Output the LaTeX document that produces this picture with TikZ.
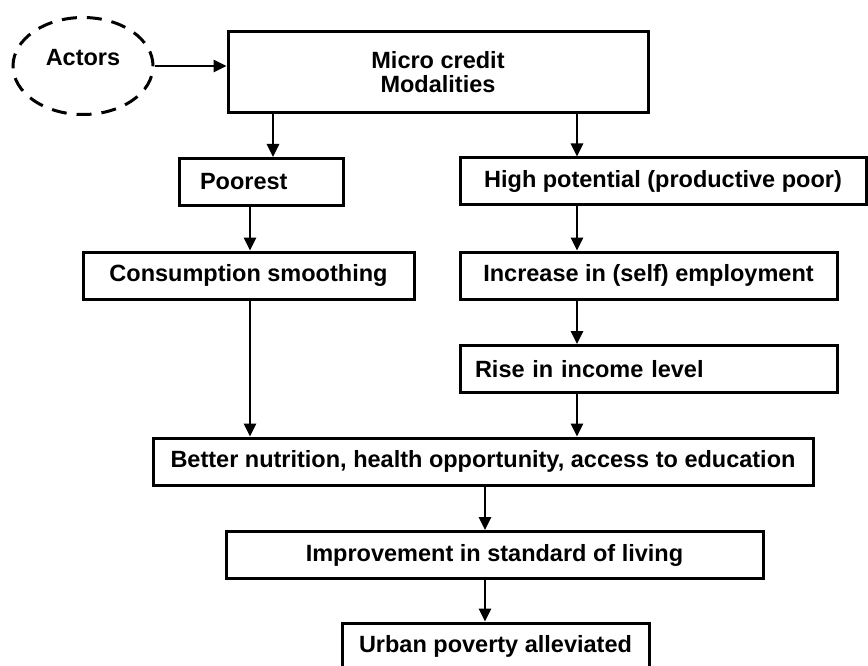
\documentclass[tikz,border=0pt]{standalone}
\usepackage{fontspec}
\setmainfont{Liberation Sans}
\usepackage{tikz}
\usetikzlibrary{shapes.geometric,arrows.meta,positioning,calc}

\begin{document}
\begin{tikzpicture}[x=1pt, y=-1pt,
  font=\bfseries\fontsize{23.5}{28}\selectfont,
  box/.style={draw, line width=3pt, minimum height=47pt, inner sep=0pt, align=center},
  actor/.style={draw, ellipse, dashed, dash pattern=on 15pt off 10pt, line width=3pt,
    minimum width=140pt, minimum height=97pt, inner sep=0pt},
  arr/.style={-{Triangle[width=12pt,length=13pt]}, line width=2.6pt}]
\useasboundingbox (0,0) rectangle (868,666);

% Top row
\node[actor, label={[yshift=8pt]center:Actors}] (actors) at (83,66) {};
\node[box, minimum width=420pt, minimum height=81pt] (micro) at (438,72.5) {Micro credit\\[-4pt]Modalities};

% Left branch
\node[box, minimum width=164pt, text width=164pt, align=left] (poorest) at (261,182) {\hspace*{21pt}Poorest};
\node[box, minimum width=331pt] (consum) at (248.5,275.5) {Consumption smoothing};

% Right branch
\node[box, minimum width=406pt] (highpot) at (663,181.5) {High potential (productive poor)};
\node[box, minimum width=377pt] (increase) at (648.5,275.5) {Increase in (self) employment};
\node[box, minimum width=377pt, text width=377pt, align=left] (rise) at (648.5,369) {\hspace*{15pt}Rise in income level};

% Outcomes
\node[box, minimum width=660pt] (better) at (483,461.5) {Better nutrition, health opportunity, access to education};
\node[box, minimum width=537pt] (improve) at (494.5,555) {Improvement in standard of living};
\node[box, minimum width=307pt] (urban) at (495.5,646.5) {Urban poverty alleviated};

% Arrow columns
\coordinate (pcol) at (273,0);
\coordinate (lcol) at (250,0);
\coordinate (rcol) at (577,0);
\coordinate (mcol) at (485,0);

\draw[arr] (actors.east) -- (micro.west |- actors.east);
\draw[arr] (micro.south -| pcol) -- (poorest.north -| pcol);
\foreach \a/\b in {poorest/consum, consum/better}
  \draw[arr] (\a.south -| lcol) -- (\b.north -| lcol);
\foreach \a/\b in {micro/highpot, highpot/increase, increase/rise, rise/better}
  \draw[arr] (\a.south -| rcol) -- (\b.north -| rcol);
\foreach \a/\b in {better/improve, improve/urban}
  \draw[arr] (\a.south -| mcol) -- (\b.north -| mcol);
\end{tikzpicture}
\end{document}
